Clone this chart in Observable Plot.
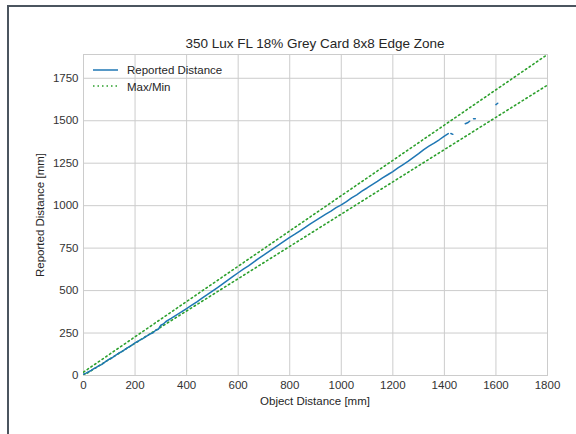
<!DOCTYPE html>
<html>
<head>
<meta charset="utf-8">
<script src="https://cdn.jsdelivr.net/npm/d3@7"></script>
<script src="https://cdn.jsdelivr.net/npm/@observablehq/plot@0.6"></script>
<style>
  html, body { margin: 0; padding: 0; background: #fff; }
  #wrap { position: relative; width: 576px; height: 434px; overflow: hidden;
          font-family: "Liberation Sans", Arial, sans-serif; color: #262626; }
  .t { position: absolute; white-space: nowrap; transform: translate(-50%, -50%); }
  #border { position: absolute; left: 7px; top: 5px; width: 600px; height: 460px;
            border-left: 2.5px solid #4b555f; border-top: 2.5px solid #4b555f; pointer-events: none; }
</style>
</head>
<body>
<div id="wrap"></div>
<script>
// ---- data ----
const title = "350 Lux FL 18% Grey Card 8x8 Edge Zone";
const xLabel = "Object Distance [mm]";
const yLabel = "Reported Distance [mm]";
const seriesNames = ["Reported Distance", "Max/Min"];

const xTicks = [0, 200, 400, 600, 800, 1000, 1200, 1400, 1600, 1800];
const yTicks = [0, 250, 500, 750, 1000, 1250, 1500, 1750];

// reported distance (NaN = gap in measurements)
const objectX = [0,10,20,30,40,50,60,70,80,90,100,110,120,130,140,150,160,170,180,190,
  200,210,220,230,240,250,260,270,280,290,300,310,320,340,360,380,
  400,420,440,460,480,500,520,540,560,580,600,620,640,660,680,700,720,740,760,780,
  800,820,840,860,880,900,920,940,960,980,1000,1020,1040,1060,1080,1100,1120,1140,1160,1180,
  1200,1220,1240,1260,1280,1300,1320,1340,1360,1380,1400,1415,1420,
  1425,1433,1450,1481,1490,1498,1505,1513,1520,1560,1600,1607];
const reportedY = [8,14,22,30,40,48,58,64,76,86,96,103,114,124,134,142,152,163,172,181,
  192,200,210,217,228,236,246,252,266,272,296,303,318,336,356,374,
  394,414,434,456,476,497,518,540,562,584,605,626,646,668,690,710,731,752,772,793,
  813,832,852,872,893,912,931,950,968,988,1005,1024,1046,1064,1085,1104,1124,1143,1164,1182,
  1201,1222,1242,1262,1284,1306,1330,1350,1368,1388,1410,1424,NaN,
  1425,1420,NaN,1482,1488,1497,NaN,1512,1512,NaN,1595,1603];

// Max / Min accuracy limits
const limitX = [0, 1800];
const maxY = [20, 1890];
const minY = [0, 1710];

const blue = "#1f77b4";
const green = "#2ca02c";

// ---- build ----
const reported = objectX.map((x, i) => ({x, y: reportedY[i]}));
const maxLine = limitX.map((x, i) => ({x, y: maxY[i]}));
const minLine = limitX.map((x, i) => ({x, y: minY[i]}));

const W = 576, H = 434;
const mL = 83, mR = 29, mT = 54, mB = 59;
const dots = "1.5,3";

const chart = Plot.plot({
  width: W, height: H,
  marginLeft: mL, marginRight: mR, marginTop: mT, marginBottom: mB,
  style: { fontFamily: '"Liberation Sans", Arial, sans-serif', fontSize: "11.5px", color: "#333", background: "#fff" },
  x: { domain: [0, 1800] },
  y: { domain: [0, 1890] },
  marks: [
    Plot.gridX(xTicks, { stroke: "#cccccc", strokeOpacity: 1, strokeWidth: 1 }),
    Plot.gridY(yTicks, { stroke: "#cccccc", strokeOpacity: 1, strokeWidth: 1 }),
    Plot.frame({ stroke: "#cccccc", strokeWidth: 1 }),
    Plot.axisX(xTicks, { tickSize: 0, tickPadding: 5, label: null, fontSize: 11.5, tickFormat: d3.format("d") }),
    Plot.axisY(yTicks, { tickSize: 0, tickPadding: 5, label: null, fontSize: 11.5, tickFormat: d3.format("d") }),
    Plot.line(maxLine, { x: "x", y: "y", stroke: green, strokeWidth: 1.6, strokeDasharray: dots, clip: true }),
    Plot.line(minLine, { x: "x", y: "y", stroke: green, strokeWidth: 1.6, strokeDasharray: dots, clip: true }),
    Plot.line(reported, { x: "x", y: "y", stroke: blue, strokeWidth: 1.5, clip: true })
  ]
});

const wrap = document.getElementById("wrap");
wrap.appendChild(chart);
chart.style.position = "absolute";
chart.style.left = "0px";
chart.style.top = "0px";

function addText(txt, x, y, size, extra) {
  const d = document.createElement("div");
  d.className = "t";
  d.textContent = txt;
  d.style.left = x + "px";
  d.style.top = y + "px";
  d.style.fontSize = size + "px";
  if (extra) Object.assign(d.style, extra);
  wrap.appendChild(d);
  return d;
}
const cx = mL + (W - mL - mR) / 2;
addText(title, cx, 43, 13.5);
addText(xLabel, cx, 401, 11.5);
addText(yLabel, 40, 215, 11.5, { transform: "translate(-50%, -50%) rotate(-90deg)" });

// legend
const legSvg = d3.create("svg").attr("width", 30).attr("height", 30)
  .style("position", "absolute").style("left", "92px").style("top", "62px");
legSvg.append("line").attr("x1", 1).attr("x2", 26).attr("y1", 8).attr("y2", 8)
  .attr("stroke", blue).attr("stroke-width", 1.5);
legSvg.append("line").attr("x1", 1).attr("x2", 26).attr("y1", 24).attr("y2", 24)
  .attr("stroke", green).attr("stroke-width", 1.6).attr("stroke-dasharray", dots);
wrap.appendChild(legSvg.node());
addText(seriesNames[0], 127, 70, 11.5, { transform: "translate(0, -50%)" });
addText(seriesNames[1], 127, 86.5, 11.5, { transform: "translate(0, -50%)" });

const b = document.createElement("div");
b.id = "border";
wrap.appendChild(b);
</script>
</body>
</html>
